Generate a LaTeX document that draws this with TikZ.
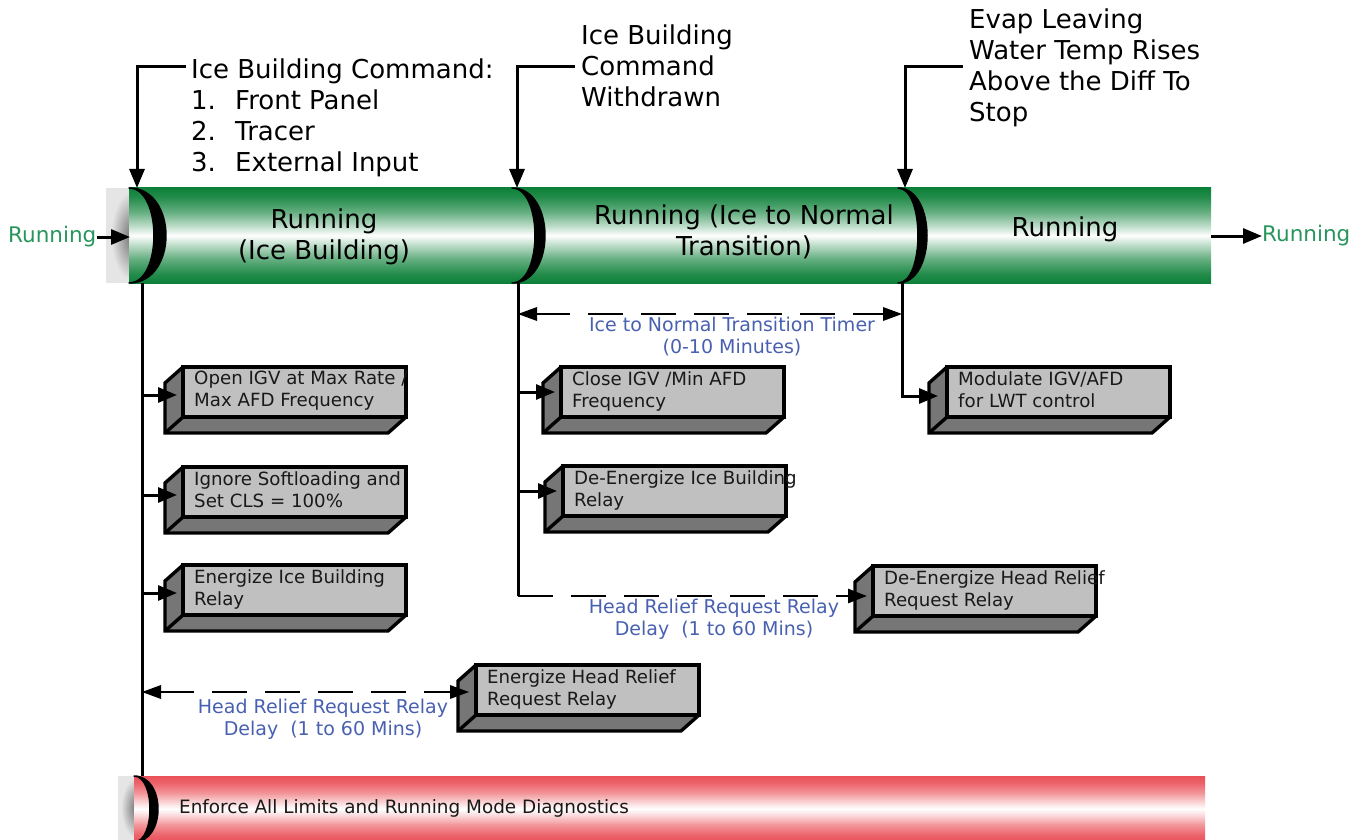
\documentclass[tikz,border=0pt]{standalone}
\usepackage{fontspec}
\setmainfont{DejaVu Sans}
\usetikzlibrary{arrows.meta,calc}
\definecolor{barG}{RGB}{12,128,56}
\definecolor{barR}{RGB}{234,80,88}
\definecolor{boxlight}{RGB}{192,192,192}
\definecolor{boxdark}{RGB}{118,118,118}
\definecolor{runG}{RGB}{40,150,92}
\definecolor{lblue}{RGB}{72,96,176}
\pgfdeclareverticalshading{greenbar}{100bp}{color(0bp)=(barG); color(25bp)=(barG); color(30bp)=(barG!90); color(38bp)=(barG!62); color(46bp)=(barG!22); color(50bp)=(white); color(54bp)=(barG!22); color(62bp)=(barG!62); color(70bp)=(barG!90); color(75bp)=(barG); color(100bp)=(barG)}
\pgfdeclareverticalshading{redbar}{100bp}{color(0bp)=(barR); color(25bp)=(barR); color(30bp)=(barR!90); color(38bp)=(barR!60); color(46bp)=(barR!18); color(50bp)=(white); color(54bp)=(barR!18); color(62bp)=(barR!60); color(70bp)=(barR!90); color(75bp)=(barR); color(100bp)=(barR)}
\tikzset{
  toptext/.style={font=\fontsize{26}{31}\selectfont, align=left, inner sep=0pt, anchor=north west},
  bartext/.style={font=\fontsize{26}{31}\selectfont, align=center, inner sep=0pt},
  sidetext/.style={font=\fontsize{21.5}{26}\selectfont, text=runG, inner sep=0pt},
  bluetext/.style={font=\fontsize{19}{22}\selectfont, text=lblue, align=center, inner sep=0pt},
  boxtext/.style={font=\fontsize{18.2}{22}\selectfont, align=left, inner sep=0pt, text=black!90, anchor=north west},
  boxfront/.style={draw, line width=3.4pt, fill=boxlight, minimum width=223pt, minimum height=50pt, inner sep=0pt, outer sep=0pt, anchor=north west},
  boxline/.style={line width=3.4pt, line join=miter},
  solidline/.style={line width=3pt},
  arr/.style={line width=3pt, -{Triangle[length=19pt,width=15pt]}},
  dtip/.style={line width=2.6pt, -{Triangle[length=19pt,width=14pt]}},
  dashline/.style={line width=2.6pt},
}
\newcommand{\tdbox}[4]{%
  \fill[boxdark] (#2,#3) -- ++(-18,16) -- ++(0,50) -- ++(223,0) -- ++(18,-16) -- ++(-223,0) -- cycle;
  \draw[boxline] (#2,#3) -- ++(-18,16) -- ++(0,50) -- ++(223,0) -- ++(18,-16);
  \draw[boxline] (#2,{#3+50}) -- ++(-18,16);
  \node[boxfront] (#1) at (#2,#3) {};
  \node[boxtext] (#1t) at ({#2+11},{#3+4}) {#4};}
\newcommand{\capshape}[5]{%
  \filldraw[black, line width=1.5pt, line join=round] (#1,#2) .. controls ({#1+1.333*#4},#2) and ({#1+1.333*#4},#3) .. (#1,#3)
     .. controls ({#1+1.333*#5},#3) and ({#1+1.333*#5},#2) .. (#1,#2) -- cycle;}
% arrowheads drawn by hand: left-pointing and right-pointing, tip at #1
\newcommand{\lefttip}[1]{\fill (#1) -- ++(19,-7) -- ++(0,14) -- cycle;}
\newcommand{\righttip}[1]{\fill (#1) -- ++(-19,-7) -- ++(0,14) -- cycle;}
\begin{document}
\begin{tikzpicture}[x=1pt,y=-1pt]
\useasboundingbox (0,0) rectangle (1369,840);
% ---------- green bar ----------
\fill[gray!20] (106,188) rectangle (129,283);
\begin{scope}
  \clip (106,188) rectangle (129,283);
  \shade[inner color=black!55, outer color=gray!20] (131,236) ellipse [x radius=20pt, y radius=44pt];
\end{scope}
\shade[shading=greenbar] (129,188) rectangle (1211,283);
\capshape{129}{188}{283}{37}{25}
\capshape{512}{188}{283}{33}{23}
\capshape{898}{188}{283}{29}{20}
\node[bartext] (s1) at (324,237) {Running\\(Ice Building)};
\node[bartext] (s2) at (744,232) {Running (Ice to Normal\\Transition)};
\node[bartext] (s3) at (1065,229) {Running};
% ---------- red bar ----------
\fill[gray!20] (118,776) rectangle (134,840);
\begin{scope}
  \clip (118,776) rectangle (134,840);
  \shade[inner color=black!55, outer color=gray!20] (136,808) ellipse [x radius=15pt, y radius=30pt];
\end{scope}
\shade[shading=redbar] (134,776) rectangle (1205,842);
\capshape{134}{776}{842}{24}{16}
\node[font=\fontsize{18.4}{22}\selectfont, text=black!90, anchor=west, inner sep=0pt] (lim) at (179,808) {Enforce All Limits and Running Mode Diagnostics};
% ---------- side labels ----------
\node[sidetext, anchor=west] (inL) at (8,237) {Running};
\node[sidetext, anchor=west] (outR) at (1262,236) {Running};
\draw[arr] (inL.east) -- (130,237);
\coordinate (barEnd) at (1211,236);
\draw[arr] (barEnd) -- (outR.west);
% ---------- top labels ----------
\node[toptext] (cmd) at (191,59) {Ice Building Command:\\\makebox[44pt][l]{1.}Front Panel\\\makebox[44pt][l]{2.}Tracer\\\makebox[44pt][l]{3.}External Input};
\node[toptext] (wdr) at (581,25) {Ice Building\\Command\\Withdrawn};
\node[toptext] (evap) at (969,9) {Evap Leaving\\Water Temp Rises\\Above the Diff To\\Stop};
\coordinate (cap1t) at (137,188);
\coordinate (cap2t) at (517,188);
\coordinate (cap3t) at (905,188);
\draw[arr] ($(cmd.north west)+(-5,8)$) -| (cap1t);
\draw[arr] ($(wdr.north west)+(-6,42)$) -| (cap2t);
\draw[arr] ($(evap.north west)+(-6,58)$) -| (cap3t);
% ---------- vertical lines ----------
\coordinate (v1t) at (142,283);
\coordinate (v1b) at (142,776);
\coordinate (v2t) at (518,283);
\coordinate (v2b) at (518,596);
\coordinate (v3t) at (902,283);
\draw[solidline] (v1t) -- (v1b);
\draw[solidline] (v2t) -- (v2b);
% ---------- boxes ----------
\tdbox{a1}{183}{367}{Open IGV at Max Rate /\\Max AFD Frequency}
\tdbox{a2}{183}{467}{Ignore Softloading and\\Set CLS = 100\%}
\tdbox{a3}{183}{565}{Energize Ice Building\\Relay}
\tdbox{a4}{476}{665}{Energize Head Relief\\Request Relay}
\tdbox{b1}{561}{367}{Close IGV /Min AFD\\Frequency}
\tdbox{b2}{563}{466}{De-Energize Ice Building\\Relay}
\tdbox{b3}{873}{566}{De-Energize Head Relief\\Request Relay}
\tdbox{c1}{947}{367}{Modulate IGV/AFD\\for LWT control}
% ---------- connectors into boxes ----------
\draw[arr] (v1t |- {$(a1.west)+(0,3)$}) -- ($(a1.west)+(-6,3)$);
\draw[arr] (v1t |- {$(a2.west)+(0,3)$}) -- ($(a2.west)+(-6,3)$);
\draw[arr] (v1t |- {$(a3.west)+(0,3)$}) -- ($(a3.west)+(-6,3)$);
\draw[arr] (v2t |- b1.west) -- ($(b1.west)+(-6,0)$);
\draw[arr] (v2t |- b2.west) -- ($(b2.west)+(-6,0)$);
\draw[arr] (v3t) |- ($(c1.west)+(-9,4)$);
% ---------- dashed timers ----------
\coordinate (tmL) at (518,314);
\coordinate (tmR) at (902,314);
\draw[dashline, dash pattern=on 52pt off 18pt on 35pt off 18pt on 35pt off 18pt on 35pt off 18pt on 35pt off 18pt on 35pt off 18pt on 45pt off 10pt] (tmL) -- ($(tmR)+(-4,0)$);
\lefttip{tmL}
\righttip{tmR}
\node[bluetext] (tmr) at (732,337) {Ice to Normal Transition Timer\\(0-10 Minutes)};
\coordinate (b3in) at ($(b3.west)+(-6,5)$);
\draw[dashline, dash pattern=on 35pt off 18pt] (v2b) -- ($(b3in)+(-10,0)$);
\draw[dtip] ($(b3in)+(-24,0)$) -- (b3in);
\node[bluetext] (hr2) at (714,619) {Head Relief Request Relay\\Delay\ \ (1 to 60 Mins)};
\coordinate (h1L) at (v1t |- {$(a4.west)+(0,2)$});
\coordinate (a4in) at ($(a4.west)+(-7,2)$);
\draw[dashline, dash pattern=on 52pt off 18pt on 35pt off 18pt on 35pt off 18pt on 35pt off 18pt on 35pt off 18pt on 40pt off 10pt] (h1L) -- ($(a4in)+(-4,0)$);
\lefttip{h1L}
\righttip{a4in}
\node[bluetext] (hr1) at (323,719) {Head Relief Request Relay\\Delay\ \ (1 to 60 Mins)};
\end{tikzpicture}
\end{document}
